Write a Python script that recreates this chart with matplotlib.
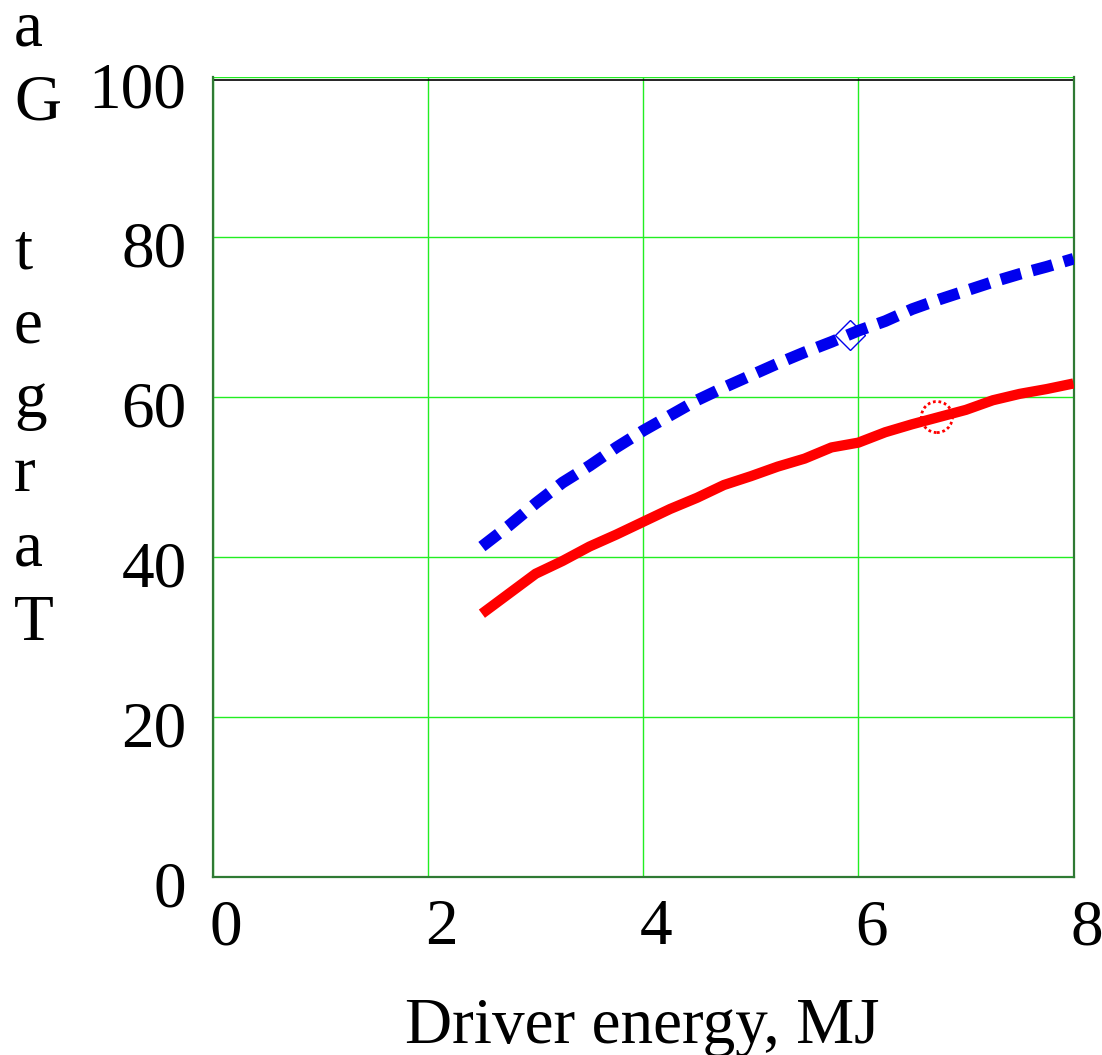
import matplotlib
matplotlib.use("Agg")
from matplotlib import pyplot as plt
from matplotlib.transforms import ScaledTranslation

# driver energy (MJ) and target gain
energy = [2.5, 2.75, 3.0, 3.25, 3.5, 3.75, 4.0, 4.25, 4.5, 4.75, 5.0, 5.25,
          5.5, 5.75, 6.0, 6.25, 6.5, 6.75, 7.0, 7.25, 7.5, 7.75, 8.0]
gain_solid = [32.9, 35.4, 37.9, 39.5, 41.3, 42.8, 44.4, 46.0, 47.4, 49.0, 50.1, 51.3,
              52.3, 53.7, 54.3, 55.6, 56.6, 57.5, 58.4, 59.6, 60.4, 61.0, 61.7]
gain_dashed = [41.3, 43.9, 46.7, 49.3, 51.4, 53.7, 55.8, 57.7, 59.6, 61.2, 62.7, 64.2,
               65.6, 66.9, 68.3, 69.5, 71.0, 72.2, 73.3, 74.4, 75.4, 76.3, 77.3]
circle_pt = (6.73, 57.5)
diamond_pt = (5.92, 67.8)

xticks = [0, 2, 4, 6, 8]
yticks = [0, 20, 40, 60, 80, 100]
# "Target Ga" - the rest of the label falls off the top of the figure
ylabel_letters = ["T", "a", "r", "g", "e", "t", " ", "G", "a"]

plt.rcParams["font.family"] = ["Liberation Serif", "DejaVu Serif"]
plt.rcParams["font.size"] = 47

W, H = 1102, 1055
fig = plt.figure(figsize=(W / 100, H / 100), dpi=100)
ax = fig.add_axes([213 / W, 1 - 876.7 / H, (1073.5 - 213) / W, (876.7 - 77.3) / H])

ax.set_xlim(0, 8)
ax.set_ylim(0, 100)
ax.set_xticks(xticks)
ax.set_yticks(yticks)
ax.set_xticklabels([str(v) for v in xticks], ha="left")
ax.set_yticklabels([str(v) for v in yticks])
ax.tick_params(length=0)
ax.tick_params(axis="x", pad=16)
ax.tick_params(axis="y", pad=19)
for lab in ax.get_xticklabels():
    lab.set_transform(lab.get_transform() + ScaledTranslation(-0.035, 0, fig.dpi_scale_trans))
for lab in ax.get_yticklabels():
    lab.set_transform(lab.get_transform() + ScaledTranslation(0, -0.07, fig.dpi_scale_trans))

ax.grid(True, color="#22ee22", lw=1.0)
ax.set_axisbelow(True)
for side in ["left", "bottom", "right"]:
    ax.spines[side].set_color("#2f7a34")
    ax.spines[side].set_linewidth(1.6)
ax.spines["top"].set_visible(False)
ax.axhline(99.6, color="black", lw=1.2, zorder=1)

ax.plot(energy, gain_solid, color="#ff0000", lw=7.4, solid_capstyle="butt", zorder=3)
ax.plot(energy, gain_dashed, color="#0000ee", lw=8.4, dashes=(1.8, 1.0),
        dash_capstyle="butt", zorder=3)
ax.scatter([circle_pt[0]], [circle_pt[1]], s=500, facecolors="none",
           edgecolors="#ff0000", linewidths=2.0, linestyle=(0, (1, 1)), zorder=4)
ax.plot([diamond_pt[0]], [diamond_pt[1]], marker="D", ms=15, mfc="none",
        mec="#0000ee", mew=1.0, zorder=4)

fig.text(642.5 / W, 1 - 1043 / H, "Driver energy, MJ", ha="center", va="baseline")

# vertical label written letter by letter, bottom to top
base = 640
for i, ch in enumerate(ylabel_letters):
    fig.text(14 / W, 1 - (base - i * 74.3) / H, ch, ha="left", va="baseline")

fig.savefig("out.png", dpi=100)
